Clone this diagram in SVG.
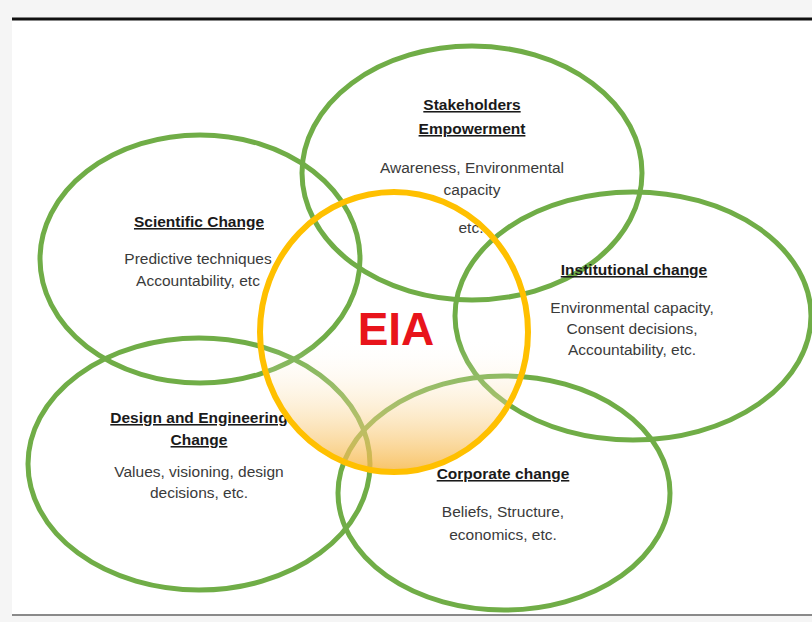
<svg xmlns="http://www.w3.org/2000/svg" width="812" height="622" viewBox="0 0 812 622">
<defs>
<linearGradient id="eiaFill" x1="0" y1="0" x2="0" y2="1">
<stop offset="0" stop-color="#ffffff" stop-opacity="0"/>
<stop offset="0.52" stop-color="#ffffff" stop-opacity="0"/>
<stop offset="1" stop-color="#f6b440" stop-opacity="0.8"/>
</linearGradient>
</defs>
<style>
.ring{fill:none;stroke:#70ad47;stroke-width:5}
.title{font-family:"Liberation Sans",Arial,sans-serif;font-size:15.5px;font-weight:bold;fill:#1a1a1a;text-anchor:middle;text-decoration:underline}
.body{font-family:"Liberation Sans",Arial,sans-serif;font-size:15.5px;fill:#3a3a3a;text-anchor:middle}
.eia{font-family:"Liberation Sans",Arial,sans-serif;font-size:46px;font-weight:bold;fill:#e8141b;text-anchor:middle}
</style>
<rect x="0" y="0" width="812" height="622" fill="#f5f5f5"/>
<rect x="12" y="20" width="800" height="594" fill="#ffffff"/>
<line x1="12" y1="19" x2="812" y2="19" stroke="#111111" stroke-width="3"/>
<line x1="12" y1="615" x2="812" y2="615" stroke="#8a8a8a" stroke-width="2"/>

<g id="connectors"></g>

<g id="stakeholders">
<ellipse class="ring" cx="472" cy="173" rx="170" ry="127"/>
<text class="title" x="472" y="110">Stakeholders</text>
<text class="title" x="472" y="134">Empowerment</text>
<text class="body" x="472" y="173">Awareness, Environmental</text>
<text class="body" x="472" y="195">capacity</text>
<text class="body" x="471" y="233">etc.</text>
</g>

<g id="scientific">
<ellipse class="ring" cx="200" cy="259" rx="160" ry="124"/>
<text class="title" x="199" y="227">Scientific Change</text>
<text class="body" x="198" y="264">Predictive techniques</text>
<text class="body" x="198" y="286">Accountability, etc</text>
</g>

<g id="institutional">
<ellipse class="ring" cx="633" cy="316" rx="178" ry="124"/>
<text class="title" x="634" y="275">Institutional change</text>
<text class="body" x="632" y="313">Environmental capacity,</text>
<text class="body" x="632" y="334">Consent decisions,</text>
<text class="body" x="632" y="355">Accountability, etc.</text>
</g>

<g id="design">
<ellipse class="ring" cx="199" cy="464" rx="171" ry="126"/>
<text class="title" x="199" y="423">Design and Engineering</text>
<text class="title" x="199" y="445">Change</text>
<text class="body" x="199" y="477">Values, visioning, design</text>
<text class="body" x="199" y="498">decisions, etc.</text>
</g>

<g id="corporate">
<ellipse class="ring" cx="504" cy="493" rx="166" ry="117"/>
<text class="title" x="503" y="479">Corporate change</text>
<text class="body" x="503" y="517">Beliefs, Structure,</text>
<text class="body" x="503" y="540">economics, etc.</text>
</g>

<g id="eia">
<ellipse cx="394" cy="332" rx="134" ry="140" fill="url(#eiaFill)" stroke="#ffc000" stroke-width="6"/>
<text class="eia" x="396" y="345">EIA</text>
</g>
</svg>
